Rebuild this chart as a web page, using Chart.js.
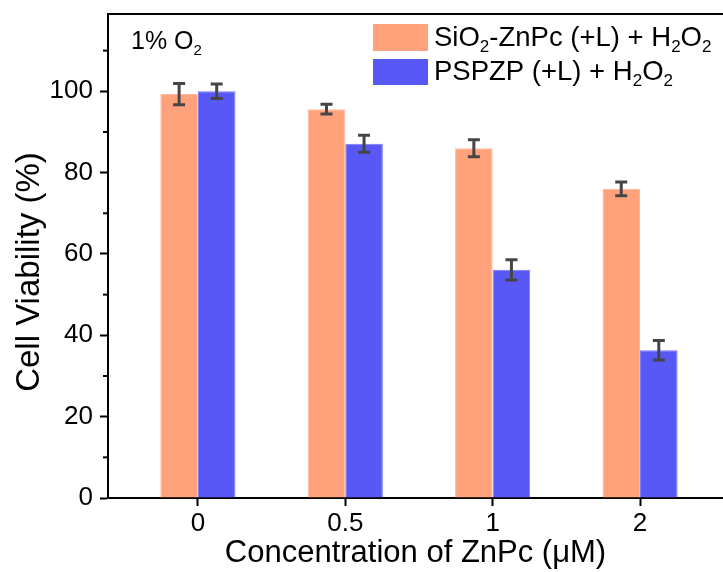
<!DOCTYPE html>
<html>
<head>
<meta charset="utf-8">
<script src="https://cdn.jsdelivr.net/npm/chart.js@4.4.1/dist/chart.umd.min.js"></script>
<style>
  html, body { margin: 0; padding: 0; background: #fff; }
  #wrap { width: 723px; height: 572px; }
</style>
</head>
<body>
<div id="wrap"><canvas id="grafico" width="723" height="572"></canvas></div>
<script>
// datos
const concentraciones = ['0', '0.5', '1', '2'];
const posiciones = [0, 1, 2, 3];
const sioZnpc = [99.3, 95.6, 86.0, 76.0];
const sioZnpcErr = [2.6, 1.2, 2.1, 1.7];
const pspzp = [100.0, 87.1, 56.1, 36.3];
const pspzpErr = [1.8, 2.1, 2.5, 2.4];
const yTicks = [0, 20, 40, 60, 80, 100];
const yMinor = [10, 30, 50, 70, 90, 110];

const FUENTE = '"Liberation Sans", Arial, sans-serif';
const NARANJA = 'rgb(255,162,124)';
const AZUL = 'rgb(88,88,246)';
const errores = [sioZnpcErr, pspzpErr];

// texto con subíndices: partes [texto, esSub]
function textoSub(ctx, partes, x, y, size) {
  let cx = x;
  partes.forEach(p => {
    const s = p[1] ? Math.round(size * 0.6) : size;
    ctx.font = s + 'px ' + FUENTE;
    ctx.fillText(p[0], cx, p[1] ? y + size * 0.22 : y);
    cx += ctx.measureText(p[0]).width;
  });
}

const extras = {
  id: 'extras',
  afterDatasetsDraw(chart) {
    const ctx = chart.ctx;
    const y = chart.scales.y;
    const area = chart.chartArea;
    ctx.save();
    // barras de error
    chart.data.datasets.forEach((ds, i) => {
      const meta = chart.getDatasetMeta(i);
      meta.data.forEach((bar, j) => {
        const v = ds.data[j].y, e = errores[i][j];
        const top = y.getPixelForValue(v + e), bot = y.getPixelForValue(v - e);
        ctx.strokeStyle = '#454545';
        ctx.lineWidth = 3;
        ctx.beginPath();
        ctx.moveTo(bar.x, top); ctx.lineTo(bar.x, bot);
        ctx.moveTo(bar.x - 6, top); ctx.lineTo(bar.x + 6, top);
        ctx.moveTo(bar.x - 6, bot); ctx.lineTo(bar.x + 6, bot);
        ctx.stroke();
      });
    });
    // borde superior
    ctx.strokeStyle = '#000';
    ctx.lineWidth = 2;
    ctx.beginPath();
    ctx.moveTo(area.left - 1, area.top); ctx.lineTo(723, area.top);
    ctx.stroke();
    // ticks menores
    yMinor.forEach(v => {
      const py = y.getPixelForValue(v);
      ctx.beginPath();
      ctx.moveTo(area.left - 5, py); ctx.lineTo(area.left, py);
      ctx.stroke();
    });
    // título eje y
    ctx.fillStyle = '#000';
    ctx.translate(39, 272);
    ctx.rotate(-Math.PI / 2);
    ctx.textAlign = 'center';
    ctx.textBaseline = 'alphabetic';
    ctx.font = '33px ' + FUENTE;
    ctx.fillText('Cell Viability (%)', 0, 0);
    ctx.restore();

    // leyenda
    ctx.save();
    ctx.fillStyle = NARANJA;
    ctx.fillRect(373, 24, 55, 27);
    ctx.fillStyle = AZUL;
    ctx.fillRect(373, 59, 55, 26);
    ctx.fillStyle = '#000';
    ctx.textBaseline = 'alphabetic';
    textoSub(ctx, [['SiO', 0], ['2', 1], ['-ZnPc (+L) + H', 0], ['2', 1], ['O', 0], ['2', 1]], 434, 46, 27.5);
    textoSub(ctx, [['PSPZP (+L) + H', 0], ['2', 1], ['O', 0], ['2', 1]], 434, 80, 27.5);
    textoSub(ctx, [['1% O', 0], ['2', 1]], 131, 49, 25);
    ctx.restore();
  }
};

const ctx = document.getElementById('grafico').getContext('2d');
const grafico = new Chart(ctx, {
  type: 'bar',
  data: {
    datasets: [{
      label: 'SiO2-ZnPc (+L) + H2O2',
      data: posiciones.map((x, i) => ({ x: x, y: sioZnpc[i] })),
      backgroundColor: NARANJA,
      borderColor: 'rgb(255,185,160)',
      borderWidth: 1,
      categoryPercentage: 0.51,
      barPercentage: 1.0
    }, {
      label: 'PSPZP (+L) + H2O2',
      data: posiciones.map((x, i) => ({ x: x, y: pspzp[i] })),
      backgroundColor: AZUL,
      borderColor: 'rgb(120,120,250)',
      borderWidth: 1,
      categoryPercentage: 0.51,
      barPercentage: 1.0
    }]
  },
  options: {
    responsive: false,
    animation: false,
    layout: { padding: { top: 14, right: 0, left: 0, bottom: 0 } },
    plugins: { legend: { display: false }, tooltip: { enabled: false } },
    scales: {
      x: {
        type: 'linear',
        offset: false,
        min: -0.61,
        max: 3.563,
        afterBuildTicks: s => { s.ticks = posiciones.map(v => ({ value: v })); },
        afterFit: s => { s.height = 74; s.paddingLeft = 0; s.paddingRight = 0; },
        grid: { offset: false, drawOnChartArea: false, tickLength: 8, tickWidth: 2, tickColor: '#000' },
        border: { display: true, color: '#000', width: 2 },
        ticks: {
          color: '#000',
          font: { family: FUENTE, size: 26 },
          padding: 2,
          callback: v => concentraciones[v]
        },
        title: {
          display: true,
          text: 'Concentration of ZnPc (μM)',
          color: '#000',
          font: { family: FUENTE, size: 31 },
          padding: { top: 0, bottom: 0 }
        }
      },
      y: {
        min: 0,
        max: 119,
        afterBuildTicks: s => { s.ticks = yTicks.map(v => ({ value: v })); },
        afterFit: s => { s.width = 108; s.paddingTop = 0; s.paddingBottom = 0; },
        grid: { drawOnChartArea: false, tickLength: 8, tickWidth: 2, tickColor: '#000' },
        border: { display: true, color: '#000', width: 2 },
        ticks: {
          color: '#000',
          font: { family: FUENTE, size: 26 },
          padding: 7
        }
      }
    }
  },
  plugins: [extras]
});
</script>
</body>
</html>
